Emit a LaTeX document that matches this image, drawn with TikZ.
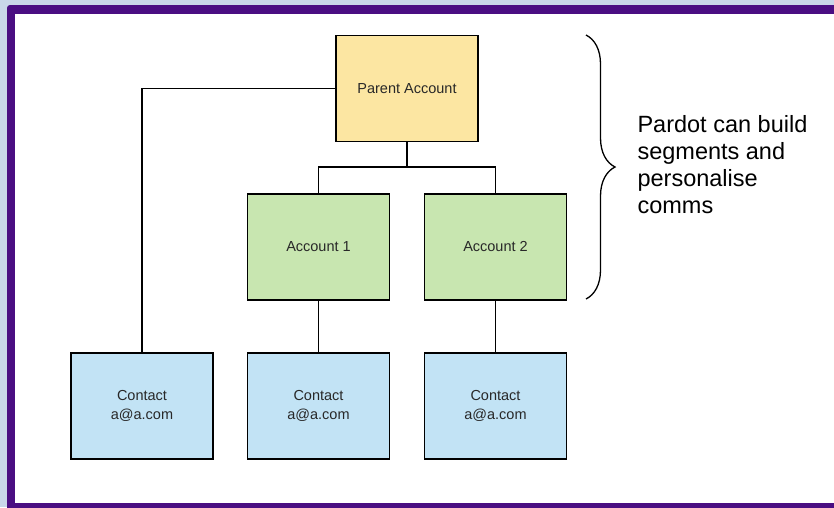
\documentclass[tikz,border=0pt]{standalone}
\usepackage{fontspec}
\setmainfont{Liberation Sans}
\usepackage{tikz}
\usetikzlibrary{positioning,calc,decorations.pathreplacing}
\usepackage{xcolor}
\definecolor{frameback}{RGB}{201,215,233}
\definecolor{framepurple}{RGB}{74,14,130}
\definecolor{parentyellow}{RGB}{252,230,162}
\definecolor{accountgreen}{RGB}{200,230,176}
\definecolor{contactblue}{RGB}{194,227,245}
\definecolor{boxtext}{RGB}{40,40,40}
\tikzset{
    orgbox/.style={draw, line width=1.3pt, fill=#1,
                   minimum width=142pt, minimum height=106pt,
                   inner sep=0pt, align=center, text=boxtext,
                   font=\fontsize{14.5}{18.5}\selectfont},
}

\begin{document}
\begin{tikzpicture}[
    x=1pt, y=-1pt,
    link/.style={line width=1.3pt},
]
    \useasboundingbox (0,0) rectangle (834,507);
    % frame round the slide
    \fill[frameback] (0,0) rectangle (834,507);
    \fill[framepurple, rounded corners=3pt] (7,5) rectangle (860,530);
    \fill[white] (15,14) rectangle (834,503);

    \node[orgbox=parentyellow] (parent) at (407,88.5) {Parent Account};
    \node[orgbox=accountgreen] (acc1) at (318.5,247) {Account 1};
    \node[orgbox=accountgreen] (acc2) at (495.5,247) {Account 2};
    \node[orgbox=contactblue] (con1) at (142,406) {Contact\\a@a.com};
    \node[orgbox=contactblue] (con2) at (318.5,406) {Contact\\a@a.com};
    \node[orgbox=contactblue] (con3) at (495.5,406) {Contact\\a@a.com};
    \coordinate (split) at (407,167);

    \draw[link] (parent.west) -| (con1.north);
    \draw[link] (parent.south) -- (split);
    \draw[link] (split) -| (acc1.north);
    \draw[link] (split) -| (acc2.north);
    \draw[link] (acc1) -- (con2);
    \draw[link] (acc2) -- (con3);

    \coordinate (bracetop) at (586,35);
    \coordinate (bracebot) at (586,299);
    \draw[line width=1.3pt, decorate, decoration={brace, amplitude=29pt}]
        (bracetop) -- (bracebot);
    \node[anchor=west, align=left, font=\fontsize{23.5}{27}\selectfont]
        (note) at (634,165)
        {Pardot can build\\segments and\\personalise\\comms};
\end{tikzpicture}
\end{document}
